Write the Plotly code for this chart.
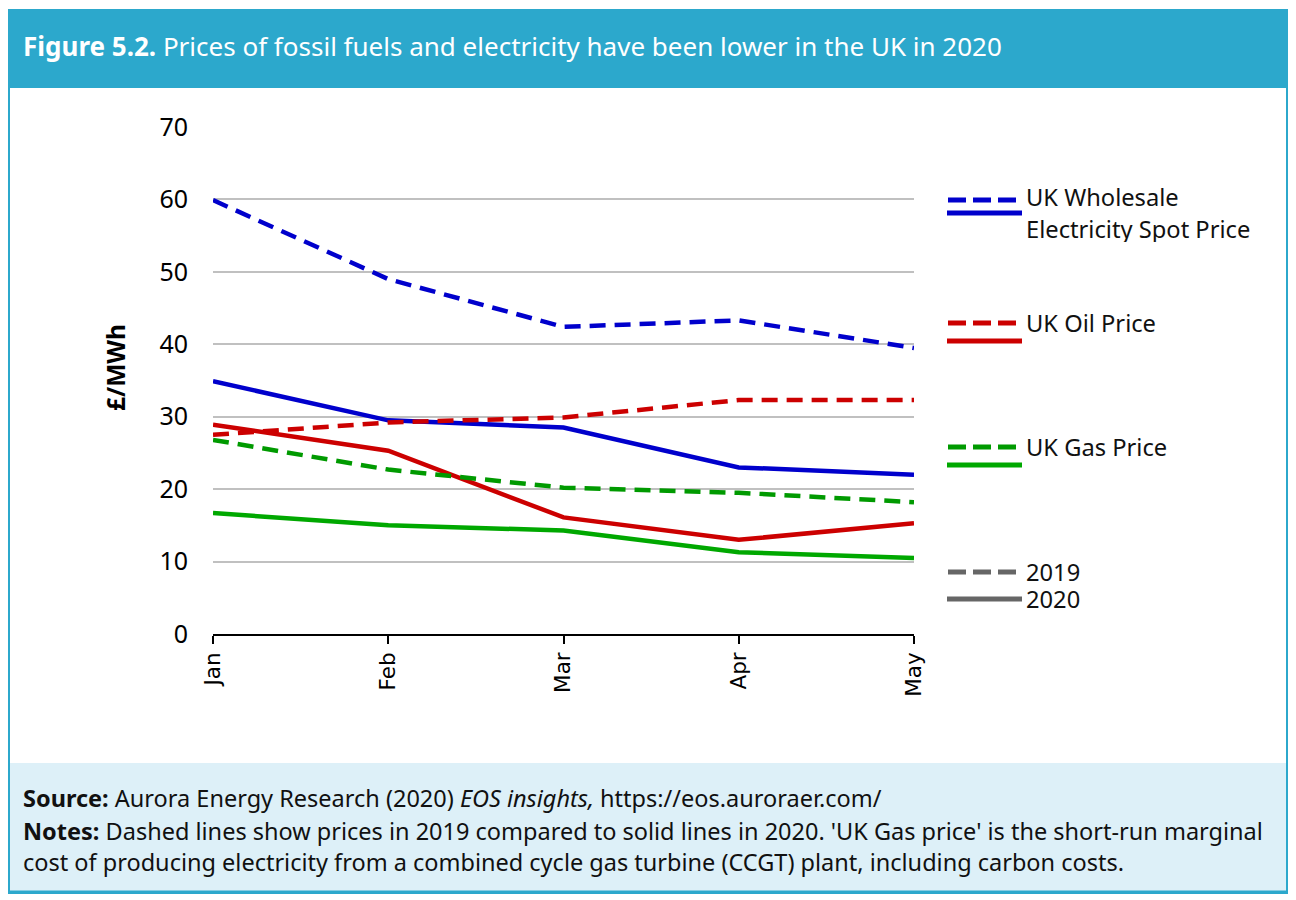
import plotly.graph_objects as go

months = ["Jan", "Feb", "Mar", "Apr", "May"]
elec_2019 = [59.9, 49.0, 42.4, 43.3, 39.5]
elec_2020 = [34.9, 29.5, 28.5, 23.0, 22.0]
oil_2019 = [27.5, 29.2, 29.9, 32.3, 32.3]
oil_2020 = [28.9, 25.3, 16.1, 13.0, 15.3]
gas_2019 = [26.8, 22.7, 20.2, 19.5, 18.2]
gas_2020 = [16.7, 15.0, 14.3, 11.3, 10.5]
y_ticks = [0, 10, 20, 30, 40, 50, 60, 70]

# page body has an 8px margin; the figure sits at (8, 8)
OFF = 8
W, H = 1280, 886
BLUE, RED, GREEN, GREEN2, GRAY = "#0000cc", "#cc0000", "#009a00", "#00a800", "#666666"
DASH = "16px,9px"
LEG_DASH = "18px,7px"
FONT = "Noto Sans"

def px(x):
    return (x - OFF) / W

def py(y):
    return (H - (y - OFF)) / H

fig = go.Figure()
series = [
    (elec_2019, BLUE, DASH), (elec_2020, BLUE, "solid"),
    (oil_2019, RED, DASH), (oil_2020, RED, "solid"),
    (gas_2019, GREEN, DASH), (gas_2020, GREEN2, "solid"),
]
for vals, col, dash in series:
    fig.add_trace(go.Scatter(x=list(range(len(months))), y=vals, mode="lines",
                             line=dict(color=col, width=4.5, dash=dash),
                             showlegend=False, hoverinfo="skip"))

shapes = []
# outer border
shapes.append(dict(type="rect", xref="paper", yref="paper", x0=px(9), x1=px(1287), y0=py(893), y1=py(10),
                   line=dict(color="#2ca8cc", width=2), fillcolor="white", layer="below"))
# header band
shapes.append(dict(type="rect", xref="paper", yref="paper", x0=px(9), x1=px(1287), y0=py(88), y1=py(10),
                   line=dict(width=0), fillcolor="#2ca8cc", layer="below"))
# footer band
shapes.append(dict(type="rect", xref="paper", yref="paper", x0=px(10), x1=px(1286), y0=py(891), y1=py(763),
                   line=dict(width=0), fillcolor="#ddf0f8", layer="below"))
shapes.append(dict(type="line", xref="paper", yref="paper", x0=px(9), x1=px(1287), y0=py(892), y1=py(892),
                   line=dict(color="#2ca8cc", width=3)))

# legend
legend_items = [
    (BLUE, BLUE, 200, 213, [("UK Wholesale", 197), ("Electricity Spot Price", 229)]),
    (RED, RED, 323, 341, [("UK Oil Price", 323)]),
    (GREEN, GREEN2, 447, 465, [("UK Gas Price", 447)]),
    (GRAY, GRAY, 572, 599, [("2019", 572), ("2020", 599)]),
]
annotations = []
for col_d, col_s, yd, ys, labels in legend_items:
    shapes.append(dict(type="line", xref="paper", yref="paper", x0=px(948), x1=px(1016), y0=py(yd), y1=py(yd),
                       line=dict(color=col_d, width=5, dash=LEG_DASH)))
    shapes.append(dict(type="line", xref="paper", yref="paper", x0=px(947), x1=px(1022), y0=py(ys), y1=py(ys),
                       line=dict(color=col_s, width=5)))
    for lab, yy in labels:
        annotations.append(dict(text=lab, xref="paper", yref="paper", x=px(1024), y=py(yy),
                                xanchor="left", yanchor="middle", showarrow=False, height=26,
                                font=dict(family=FONT, size=23.7, color="#111")))

# title
annotations.append(dict(text="<b>Figure 5.2.</b> Prices of fossil fuels and electricity have been lower in the UK in 2020",
                        xref="paper", yref="paper", x=px(21), y=py(46), xanchor="left", yanchor="middle",
                        showarrow=False, font=dict(family=FONT, size=26, color="white")))
# y axis title
annotations.append(dict(text="<b>£/MWh</b>", xref="paper", yref="paper", x=px(116), y=py(368), textangle=-90,
                        xanchor="center", yanchor="middle", showarrow=False,
                        font=dict(family=FONT, size=24.5, color="black")))
# footer
footer = [
    ("<b>Source:</b> Aurora Energy Research (2020) <i>EOS insights,</i> https://eos.auroraer.com/", 798),
    ("<b>Notes:</b> Dashed lines show prices in 2019 compared to solid lines in 2020. 'UK Gas price' is the short-run marginal", 831),
    ("cost of producing electricity from a combined cycle gas turbine (CCGT) plant, including carbon costs.", 862),
]
for txt, yy in footer:
    annotations.append(dict(text=txt, xref="paper", yref="paper", x=px(21), y=py(yy), xanchor="left",
                            yanchor="middle", showarrow=False, font=dict(family=FONT, size=23.5, color="#111")))

fig.update_layout(
    template="none",
    width=W, height=H, margin=dict(l=0, r=0, t=0, b=0, pad=0, autoexpand=False),
    paper_bgcolor="white", plot_bgcolor="rgba(0,0,0,0)",
    shapes=shapes, annotations=annotations, showlegend=False,
    xaxis=dict(domain=[px(213), px(914)], range=[0, 4], tickmode="array",
               tickvals=list(range(len(months))), ticktext=months, tickangle=-90,
               showgrid=False, showline=True, linecolor="black", linewidth=1.5,
               ticks="outside", ticklen=8, tickcolor="black", tickwidth=1.5, automargin=False,
               tickfont=dict(family="DejaVu Sans", size=21.5, color="black"), zeroline=False),
    yaxis=dict(domain=[py(634), py(127)], range=[0, 70], tickmode="array", tickvals=y_ticks,
               showgrid=True, gridcolor="#c0c0c0", gridwidth=1.5, zeroline=False, showline=False,
               ticks="", ticklabelstandoff=24, automargin=False,
               tickfont=dict(family=FONT, size=25, color="black")),
)
fig.write_html("out.html")
